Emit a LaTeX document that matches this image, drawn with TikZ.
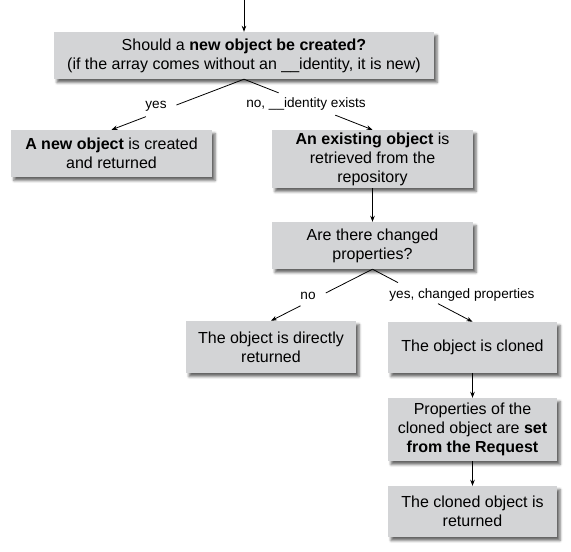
\documentclass[tikz,border=0pt]{standalone}
\usepackage{fontspec}
\setmainfont{Liberation Sans}
\usetikzlibrary{calc,arrows.meta,shadows.blur}
\definecolor{boxgray}{RGB}{211,212,214}
\begin{document}
\begin{tikzpicture}[x=1pt,y=-1pt,
  box/.style={fill=boxgray, draw=none, inner sep=0pt, align=center,
    font=\fontsize{16}{19}\selectfont,
    blur shadow={shadow xshift=3pt, shadow yshift=-3.5pt, shadow blur radius=2.5pt, shadow opacity=60}},
  lbl/.style={inner sep=1pt, font=\fontsize{13.6}{15}\selectfont},
  conn/.style={line width=0.8pt},
  arr/.style={line width=0.8pt, -{Stealth[length=6pt,width=4.5pt]}}]
\useasboundingbox (0,0) rectangle (571,552);

\node[box, minimum width=380pt, minimum height=47pt] (q1) at (244,55.5)
  {Should a \textbf{new object be created?}\\(if the array comes without an \_\_identity, it is new)};
\node[box, minimum width=201pt, minimum height=47pt] (newobj) at (111.5,153.5)
  {\textbf{A new object} is created\\and returned};
\node[box, minimum width=201pt, minimum height=58pt] (exist) at (372.5,159)
  {\textbf{An existing object} is\\retrieved from the\\repository};
\node[box, minimum width=201pt, minimum height=47pt] (q2) at (372.5,245.5)
  {Are there changed\\properties?};
\node[box, minimum width=170pt, minimum height=52pt] (direct) at (271,347)
  {The object is directly\\returned};
\node[box, minimum width=169pt, minimum height=51pt] (cloned) at (472.5,347.5)
  {The object is cloned};
\node[box, minimum width=169pt, minimum height=63pt] (props) at (472.5,429.5)
  {Properties of the\\cloned object are \textbf{set}\\\textbf{from the Request}};
\node[box, minimum width=169pt, minimum height=51pt] (last) at (472.5,511.5)
  {The cloned object is\\returned};

\coordinate (start) at (244,0);
\draw[arr] (start) -- (q1.north);

\node[lbl] (lyes) at (156,106) {yes};
\node[lbl] (lno) at (306,104) {no, \_\_identity exists};
\node[lbl] (lno2) at (308,296) {no};
\node[lbl] (lyes2) at (462,295) {yes, changed properties};

\draw[conn] (q1.south) -- ($(q1.south)!0.51!(newobj.north)$);
\draw[arr] ($(q1.south)!0.74!(newobj.north)$) -- (newobj.north);
\draw[conn] (q1.south) -- ($(q1.south)!0.27!(exist.north)$);
\draw[arr] ($(q1.south)!0.71!(exist.north)$) -- (exist.north);

\draw[arr] (exist.south) -- (q2.north);

\draw[conn] (q2.south) -- ($(q2.south)!0.46!(direct.north)$);
\draw[arr] ($(q2.south)!0.71!(direct.north)$) -- (direct.north);
\draw[conn] (q2.south) -- ($(q2.south)!0.255!(cloned.north)$);
\draw[arr] ($(q2.south)!0.655!(cloned.north)$) -- (cloned.north);

\draw[arr] (cloned.south) -- (props.north);
\draw[arr] (props.south) -- (last.north);
\end{tikzpicture}
\end{document}
